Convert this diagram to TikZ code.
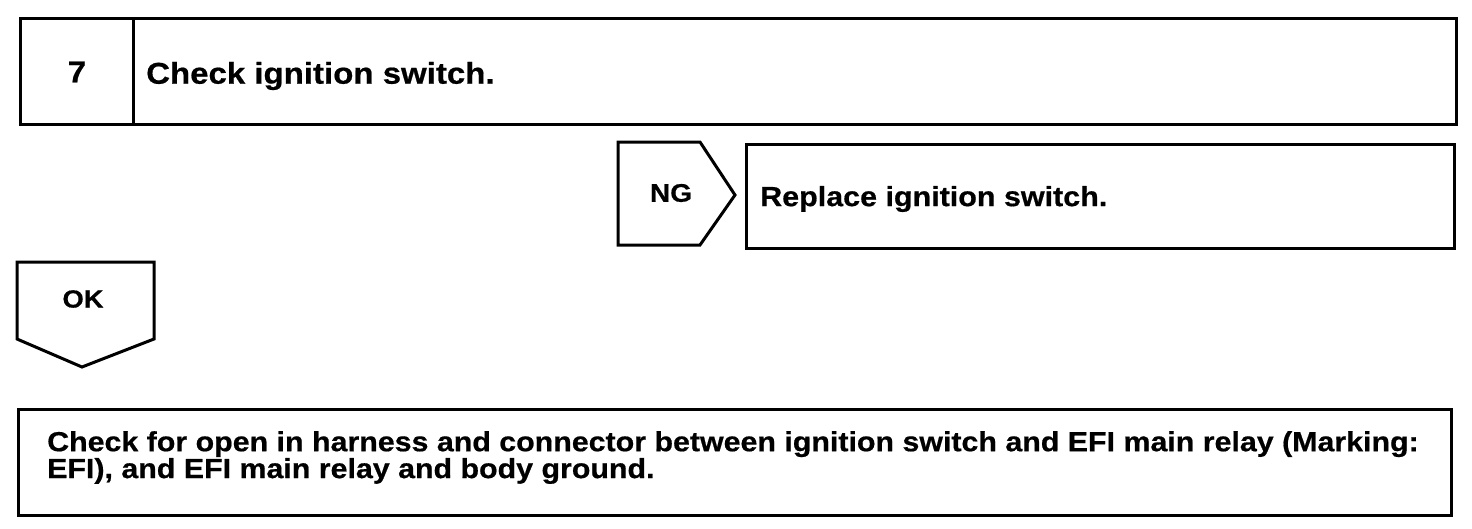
\documentclass[tikz,border=0pt]{standalone}
\usepackage{fontspec}
\newfontfamily\lab[FakeStretch=1.1,FakeBold=0.6]{Liberation Sans}
\begin{document}
\begin{tikzpicture}[x=1pt,y=-1pt,
  frame/.style={draw=black,line width=3pt,line join=miter},
  txt/.style={inner sep=0pt,font=\lab\bfseries},
  box/.style={frame,anchor=north west,inner sep=0pt}]
\useasboundingbox (0,0) rectangle (1472,528);
% step 7
\node[box,minimum width=1436pt,minimum height=106pt] (stepbox) at (19,17) {};
\coordinate (divtop) at (133,17);
\coordinate (divbot) at (133,123);
\draw[frame] (divtop) -- (divbot);
\node[txt,font=\lab\bfseries\fontsize{30}{34}\selectfont] (num) at (77,72) {7};
\node[txt,anchor=west,font=\lab\bfseries\fontsize{30}{34}\selectfont] (title) at (146,76) {Check ignition switch.};
% NG branch
\coordinate (ng1) at (618,142);
\coordinate (ng2) at (700,142);
\coordinate (ng3) at (735,195);
\coordinate (ng4) at (700,245);
\coordinate (ng5) at (618,245);
\draw[frame] (ng1) -- (ng2) -- (ng3) -- (ng4) -- (ng5) -- cycle;
\node[txt,font=\lab\bfseries\fontsize{25.5}{30}\selectfont] (ng) at (671,193) {NG};
\node[box,minimum width=708pt,minimum height=104pt] (repbox) at (745,143) {};
\node[txt,anchor=west,font=\lab\bfseries\fontsize{27.7}{32}\selectfont] (rep) at (760,199) {Replace ignition switch.};
% OK
\coordinate (ok1) at (17,262);
\coordinate (ok2) at (154,262);
\coordinate (ok3) at (154,339);
\coordinate (ok4) at (82,367);
\coordinate (ok5) at (17,339);
\draw[frame] (ok1) -- (ok2) -- (ok3) -- (ok4) -- (ok5) -- cycle;
\node[txt,font=\lab\bfseries\fontsize{24.8}{28}\selectfont] (ok) at (83,299) {OK};
% final box
\node[box,minimum width=1433pt,minimum height=106pt] (finbox) at (17,408) {};
\node[txt,anchor=north west,align=left,font=\lab\bfseries\fontsize{27.6}{23}\selectfont] (fin) at (47,431) {Check for open in harness and connector between ignition switch and EFI main relay (Marking:\\EFI), and EFI main relay and body ground.};
\end{tikzpicture}
\end{document}
